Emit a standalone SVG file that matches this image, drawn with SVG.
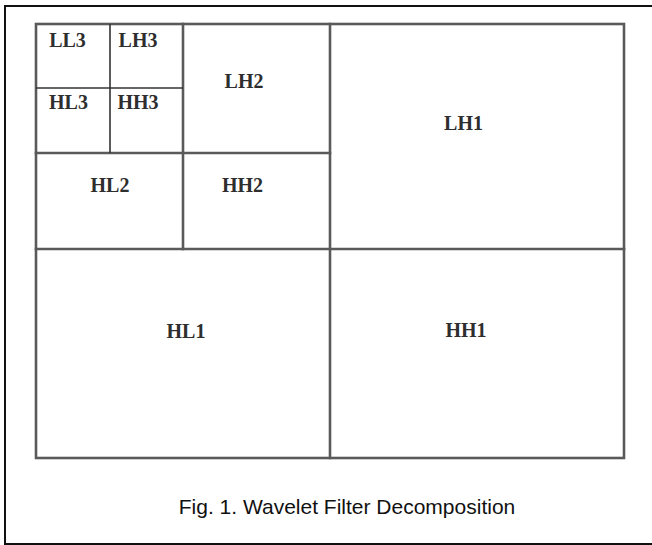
<svg xmlns="http://www.w3.org/2000/svg" width="652" height="545" viewBox="0 0 652 545">
  <style>
    .frame { fill: none; stroke: #111; stroke-width: 2; }
    .grid { stroke: #5a5a5a; stroke-width: 2.6; fill: none; stroke-linecap: square; }
    .fine { stroke: #333; stroke-width: 1.6; fill: none; }
    .band { font-family: "Liberation Serif", "Times New Roman", serif; font-size: 20px; font-weight: bold; fill: #2e2e2e; text-anchor: middle; }
    .cap { font-family: "Liberation Sans", Arial, sans-serif; font-size: 21px; fill: #111; text-anchor: middle; }
  </style>
  <rect width="652" height="545" fill="#fff"/>
  <!-- page frame (right edge lies beyond the canvas) -->
  <rect class="frame" x="5" y="6" width="660" height="538"/>

  <!-- subband boundaries -->
  <g id="connectors">
    <rect class="grid" x="36" y="24" width="588" height="434"/>
    <line class="grid" x1="330" y1="24" x2="330" y2="458"/>
    <line class="grid" x1="36" y1="249" x2="624" y2="249"/>
    <line class="grid" x1="183" y1="24" x2="183" y2="249"/>
    <line class="grid" x1="36" y1="153" x2="330" y2="153"/>
    <line class="fine" x1="110" y1="24" x2="110" y2="153"/>
    <line class="fine" x1="36" y1="88" x2="183" y2="88"/>
  </g>

  <g id="LL3"><text class="band" x="67.5" y="47">LL3</text></g>
  <g id="LH3"><text class="band" x="138" y="47">LH3</text></g>
  <g id="HL3"><text class="band" x="68.5" y="109">HL3</text></g>
  <g id="HH3"><text class="band" x="138" y="109">HH3</text></g>
  <g id="LH2"><text class="band" x="244" y="88">LH2</text></g>
  <g id="HL2"><text class="band" x="110" y="192">HL2</text></g>
  <g id="HH2"><text class="band" x="242.5" y="192">HH2</text></g>
  <g id="LH1"><text class="band" x="463.5" y="130">LH1</text></g>
  <g id="HL1"><text class="band" x="186" y="338">HL1</text></g>
  <g id="HH1"><text class="band" x="466" y="337">HH1</text></g>

  <g id="caption"><text class="cap" x="347" y="514">Fig. 1. Wavelet Filter Decomposition</text></g>
</svg>
